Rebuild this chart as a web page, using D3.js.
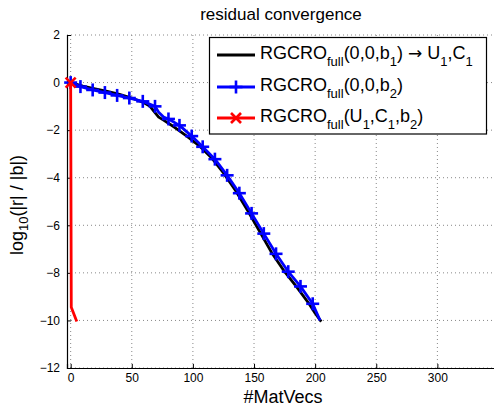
<!DOCTYPE html>
<html><head><meta charset="utf-8">
<script src="https://cdn.jsdelivr.net/npm/d3@7"></script>
<style>
body{margin:0;background:#fff;}
text{font-family:"Liberation Sans",Arial,sans-serif;}
</style></head>
<body><svg id="c" width="494" height="406"></svg>
<script>
// Data
const blackX = [0,10,20,30,40,50,60,65,68,72,76,85,95,105,115,125,135,145,155,160,165,175,185,195,200,205];
const blackY = [0,-0.15,-0.26,-0.37,-0.5,-0.65,-0.85,-1.0,-1.2,-1.45,-1.58,-1.88,-2.25,-2.65,-3.15,-3.8,-4.55,-5.4,-6.3,-6.75,-7.2,-7.95,-8.6,-9.3,-9.7,-10.05];
const blueX = [0,8,18,28,38,48,59,69,72,76,80,89,99,108,118,128,138,148,158,168,178,188,198,204];
const blueY = [0,-0.17,-0.31,-0.42,-0.54,-0.65,-0.79,-1.0,-1.25,-1.45,-1.53,-1.8,-2.25,-2.7,-3.22,-3.9,-4.65,-5.5,-6.35,-7.2,-7.95,-8.57,-9.3,-10.0];
const blueMarkerX = [0,8,18,28,38,48,59,69,80,89,99,108,118,128,138,148,158,168,178,188,198];
const redX = [0,0.5,5];
const redY = [0,-9.45,-10.05];
const xGrid = [0,50,100,150,200,250,300,350];
const xTicks = [0,50,100,150,200,250,300];
const yTicks = [-12,-10,-8,-6,-4,-2,0,2];

const svg = d3.select("#c");
const x = d3.scaleLinear().domain([-3,350]).range([67,498.5]);
const y = d3.scaleLinear().domain([-12,2]).range([368,35]);

// grid
const g = svg.append("g");
g.selectAll(".gx").data(xGrid).join("line")
  .attr("x1",d=>x(d)).attr("x2",d=>x(d)).attr("y1",y(-12)).attr("y2",y(2))
  .attr("stroke","#888").attr("stroke-width",1).attr("stroke-dasharray","1,3");
g.selectAll(".gy").data(yTicks).join("line")
  .attr("x1",x(-3)).attr("x2",x(350)).attr("y1",d=>y(d)).attr("y2",d=>y(d))
  .attr("stroke","#888").attr("stroke-width",1).attr("stroke-dasharray","1,3");

// axes
const fmt = d => (d<0 ? "\u2212"+Math.abs(d) : ""+d);
const xa = svg.append("g").attr("transform",`translate(0,${y(-12)})`)
  .call(d3.axisBottom(x).tickValues(xTicks).tickSize(-4).tickPadding(5).tickFormat(fmt));
const ya = svg.append("g").attr("transform",`translate(${x(-3)},0)`)
  .call(d3.axisLeft(y).tickValues(yTicks).tickSize(-4).tickPadding(7).tickFormat(fmt));
[xa,ya].forEach(a=>{
  a.select(".domain").attr("stroke","#000").attr("stroke-width",1.2);
  a.selectAll(".tick line").attr("stroke","#000");
  a.selectAll("text").attr("font-size",12).attr("fill","#000").style("font-family","Liberation Sans, Arial, sans-serif");
});

// lines
const line = d3.line().x(d=>x(d[0])).y(d=>y(d[1]));
const blackData = blackX.map((v,i)=>[v,blackY[i]]);
const blueData = blueX.map((v,i)=>[v,blueY[i]]);
const redData = redX.map((v,i)=>[v,redY[i]]);
const interpBlue = d3.scaleLinear().domain(blueX).range(blueY);

svg.append("path").attr("d",line(blackData)).attr("fill","none").attr("stroke","#000").attr("stroke-width",2.8).attr("stroke-linejoin","round");
svg.append("path").attr("d",line(blueData)).attr("fill","none").attr("stroke","#0000ff").attr("stroke-width",2.8).attr("stroke-linejoin","round");
const plus = (sel, cx, cy, s, col) => {
  sel.append("line").attr("x1",cx-s).attr("x2",cx+s).attr("y1",cy).attr("y2",cy).attr("stroke",col).attr("stroke-width",2.6);
  sel.append("line").attr("x1",cx).attr("x2",cx).attr("y1",cy-s).attr("y2",cy+s).attr("stroke",col).attr("stroke-width",2.6);
};
const cross = (sel, cx, cy, s, col) => {
  sel.append("line").attr("x1",cx-s).attr("x2",cx+s).attr("y1",cy-s).attr("y2",cy+s).attr("stroke",col).attr("stroke-width",2.6);
  sel.append("line").attr("x1",cx-s).attr("x2",cx+s).attr("y1",cy+s).attr("y2",cy-s).attr("stroke",col).attr("stroke-width",2.6);
};
const mk = svg.append("g");
blueMarkerX.forEach(v=>plus(mk, x(v), y(interpBlue(v)), 6.5, "#0000ff"));
svg.append("path").attr("d",line(redData)).attr("fill","none").attr("stroke","#ff0000").attr("stroke-width",2.8).attr("stroke-linejoin","round");
cross(svg, x(redX[0]), y(redY[0]), 5, "#ff0000");

// title and labels
svg.append("text").attr("x",281).attr("y",20).attr("text-anchor","middle").attr("font-size",17).text("residual convergence");
svg.append("text").attr("x",283).attr("y",403).attr("text-anchor","middle").attr("font-size",18).text("#MatVecs");
const yl = svg.append("text").attr("transform","translate(23,205) rotate(-90)").attr("text-anchor","middle").attr("font-size",18);
yl.append("tspan").text("log");
yl.append("tspan").attr("font-size",13).attr("dy",5).text("10");
yl.append("tspan").attr("dy",-5).text("(|r| / |b|)");

// legend
const lg = svg.append("g");
lg.append("rect").attr("x",209.5).attr("y",37.5).attr("width",277).attr("height",96.5).attr("fill","#fff").attr("stroke","#000").attr("stroke-width",1.2);
const rows = [
  {y:55, col:"#000", m:null, parts:[["RGCRO",0],["full",1],["(0,0,b",0],["1",1],[") ",0],["\u2192",2],[" U",0],["1",1],[",C",0],["1",1]]},
  {y:87, col:"#0000ff", m:"plus", parts:[["RGCRO",0],["full",1],["(0,0,b",0],["2",1],[")",0]]},
  {y:118, col:"#ff0000", m:"cross", parts:[["RGCRO",0],["full",1],["(U",0],["1",1],[",C",0],["1",1],[",b",0],["2",1],[")",0]]}
];
rows.forEach(r=>{
  lg.append("line").attr("x1",217).attr("x2",255).attr("y1",r.y).attr("y2",r.y).attr("stroke",r.col).attr("stroke-width",2.8);
  if(r.m==="plus") plus(lg,236,r.y,6.5,r.col);
  if(r.m==="cross") cross(lg,236,r.y,5,r.col);
  const t = lg.append("text").attr("x",260).attr("y",r.y+4).attr("font-size",18);
  let sub=false;
  r.parts.forEach(p=>{
    const ts = t.append("tspan").text(p[0]);
    if(p[1]===1){ ts.attr("font-size",13).attr("dy", sub?0:7); sub=true; }
    else {
      ts.attr("dy", sub?-7:0); sub=false;
      if(p[1]===2) ts.style("font-family","DejaVu Sans").attr("font-size",17);
    }
  });
});
</script></body></html>
